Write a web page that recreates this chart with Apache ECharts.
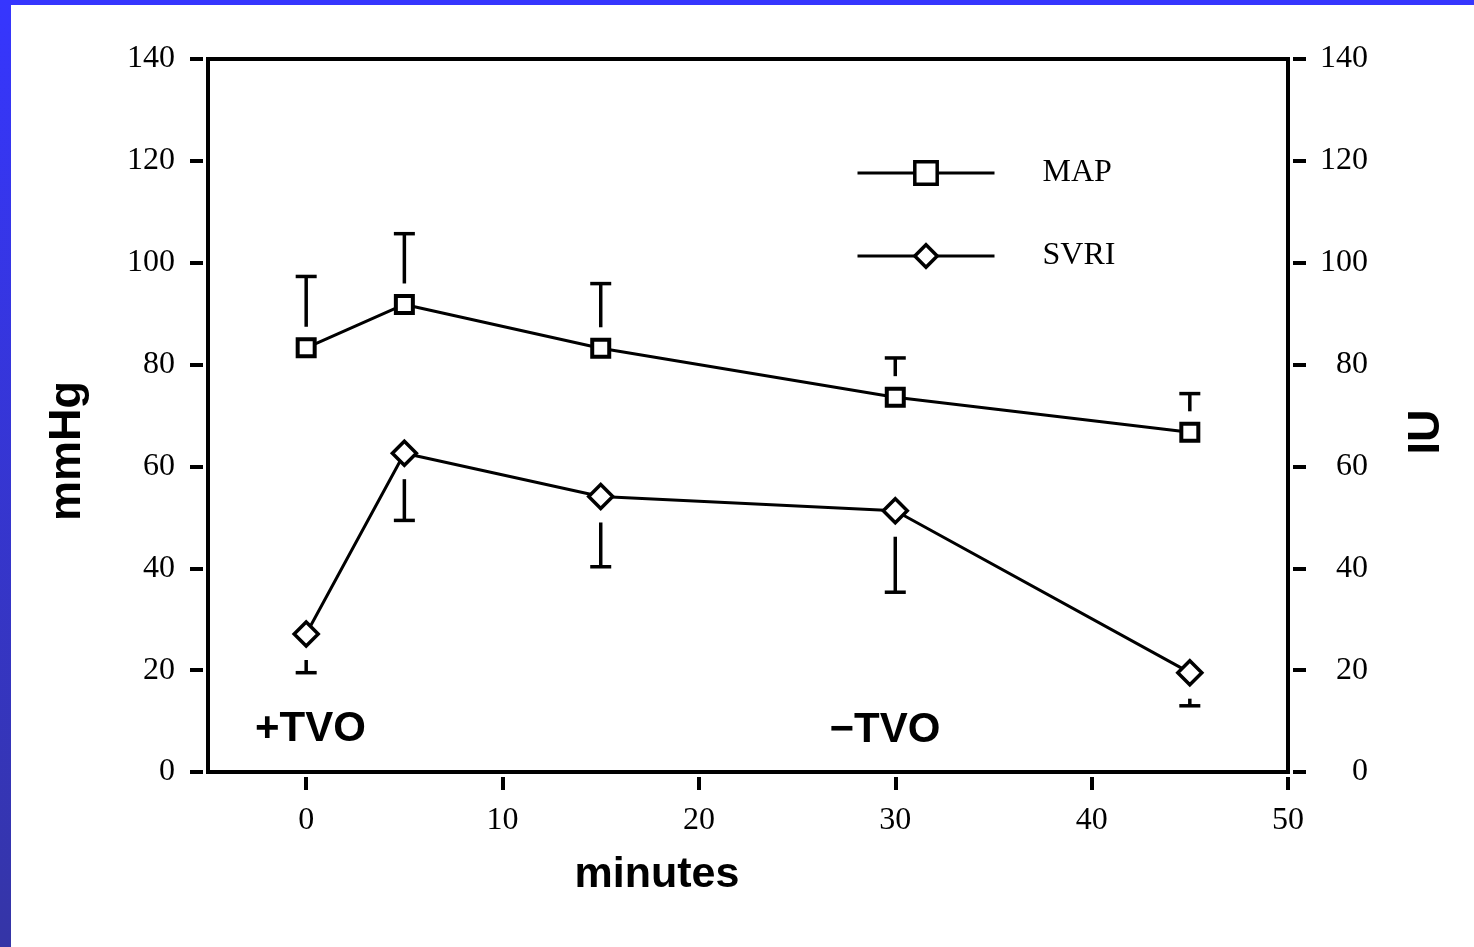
<!DOCTYPE html>
<html><head><meta charset="utf-8">
<script src="https://cdn.jsdelivr.net/npm/echarts@6/dist/echarts.min.js"></script>
<style>
html,body{margin:0;padding:0;width:1474px;height:947px;overflow:hidden;}
body{background:linear-gradient(to bottom,#3636fe,#3535a6);}
#chart{position:absolute;left:11px;top:5px;width:1463px;height:942px;background:#fff;}
</style></head><body><div id="chart"></div>
<script>
const minutes = [0, 5, 15, 30, 45];
const mapValues = [83.3, 91.8, 83.2, 73.6, 66.7];
const mapUpper = [97.3, 105.7, 95.9, 81.3, 74.3];
const svriValues = [27.1, 62.6, 54.1, 51.3, 19.5];
const svriLower = [19.5, 49.4, 40.3, 35.3, 13.0];
const xTicks = [0, 10, 20, 30, 40, 50];
const seriesNames = ['MAP', 'SVRI'];

const serif = 'Liberation Serif';
const sans = 'Liberation Sans';

function errorBars(name, centers, ends, yAxisIndex, gap) {
  return {
    type: 'custom', name: name + ' SD', yAxisIndex: yAxisIndex, silent: true, z: 1,
    data: minutes.map((m, i) => [m, centers[i], ends[i]]),
    encode: { x: 0, y: [1, 2] },
    renderItem: function (params, api) {
      const c = api.coord([api.value(0), api.value(1)]);
      const e = api.coord([api.value(0), api.value(2)]);
      const dir = e[1] < c[1] ? -1 : 1;
      const start = c[1] + dir * gap;
      return { type: 'group', children: [
        { type: 'line', shape: { x1: c[0], y1: start, x2: c[0], y2: e[1] }, style: { stroke: '#000', lineWidth: 3.5 } },
        { type: 'line', shape: { x1: c[0] - 10.5, y1: e[1], x2: c[0] + 10.5, y2: e[1] }, style: { stroke: '#000', lineWidth: 3.5 } }
      ]};
    }
  };
}

const yAxisBase = {
  type: 'value', min: 0, max: 140, interval: 20, offset: 5,
  axisLine: { show: false, onZero: false },
  axisTick: { show: true, length: 13, lineStyle: { color: '#000', width: 4 } },
  splitLine: { show: false }
};

function txt(text, x, y, size, rot) {
  return { type: 'text', x: x, y: y, rotation: rot || 0, z: 10,
    style: { text: text, font: 'bold ' + size + 'px "' + sans + '"', fill: '#000',
      align: 'center', verticalAlign: 'middle', textAlign: 'center', textVerticalAlign: 'middle' } };
}

const chart = echarts.init(document.getElementById('chart'));
chart.setOption({
  animation: false,
  backgroundColor: '#fff',
  grid: { left: 197, top: 54, right: 186, bottom: 175, show: true, borderColor: '#000', borderWidth: 4, backgroundColor: 'transparent' },
  xAxis: {
    type: 'value', min: -5, max: 50, offset: 5,
    axisLine: { show: false, onZero: false },
    axisTick: { show: true, length: 13, customValues: xTicks, lineStyle: { color: '#000', width: 4 } },
    axisLabel: { customValues: xTicks, margin: 28, fontFamily: serif, fontSize: 32, color: '#000' },
    splitLine: { show: false }
  },
  yAxis: [
    Object.assign({}, yAxisBase, { position: 'left',
      axisLabel: { margin: 28, fontFamily: serif, fontSize: 32, color: '#000' } }),
    Object.assign({}, yAxisBase, { position: 'right',
      axisLabel: { margin: 75, align: 'right', fontFamily: serif, fontSize: 32, color: '#000' } })
  ],
  legend: {
    data: seriesNames, orient: 'vertical', left: 840, top: 147,
    itemWidth: 137, itemHeight: 28, itemGap: 51,
    itemStyle: { borderWidth: 3.5, borderColor: '#000', color: '#fff' },
    lineStyle: { width: 3, color: '#000' },
    textStyle: { fontFamily: serif, fontSize: 32, color: '#000', padding: [0, 0, 0, 43] }
  },
  graphic: [
    txt('mmHg', 57, 446, 45, Math.PI / 2),
    txt('IU', 1416, 427, 45, Math.PI / 2),
    txt('minutes', 646, 870, 43, 0),
    txt('+TVO', 299.5, 724.5, 42, 0),
    txt('\u2212TVO', 874, 725, 42, 0)
  ],
  series: [
    errorBars('MAP', mapValues, mapUpper, 0, 21),
    errorBars('SVRI', svriValues, svriLower, 1, 26),
    {
      name: 'MAP', type: 'line', yAxisIndex: 0, z: 3,
      data: minutes.map((m, i) => [m, mapValues[i]]),
      symbol: 'rect', symbolSize: 17,
      lineStyle: { color: '#000', width: 3 },
      itemStyle: { color: '#fff', borderColor: '#000', borderWidth: 4 }
    },
    {
      name: 'SVRI', type: 'line', yAxisIndex: 1, z: 3,
      data: minutes.map((m, i) => [m, svriValues[i]]),
      symbol: 'diamond', symbolSize: 24,
      lineStyle: { color: '#000', width: 3 },
      itemStyle: { color: '#fff', borderColor: '#000', borderWidth: 3.5 }
    }
  ]
});
</script></body></html>
